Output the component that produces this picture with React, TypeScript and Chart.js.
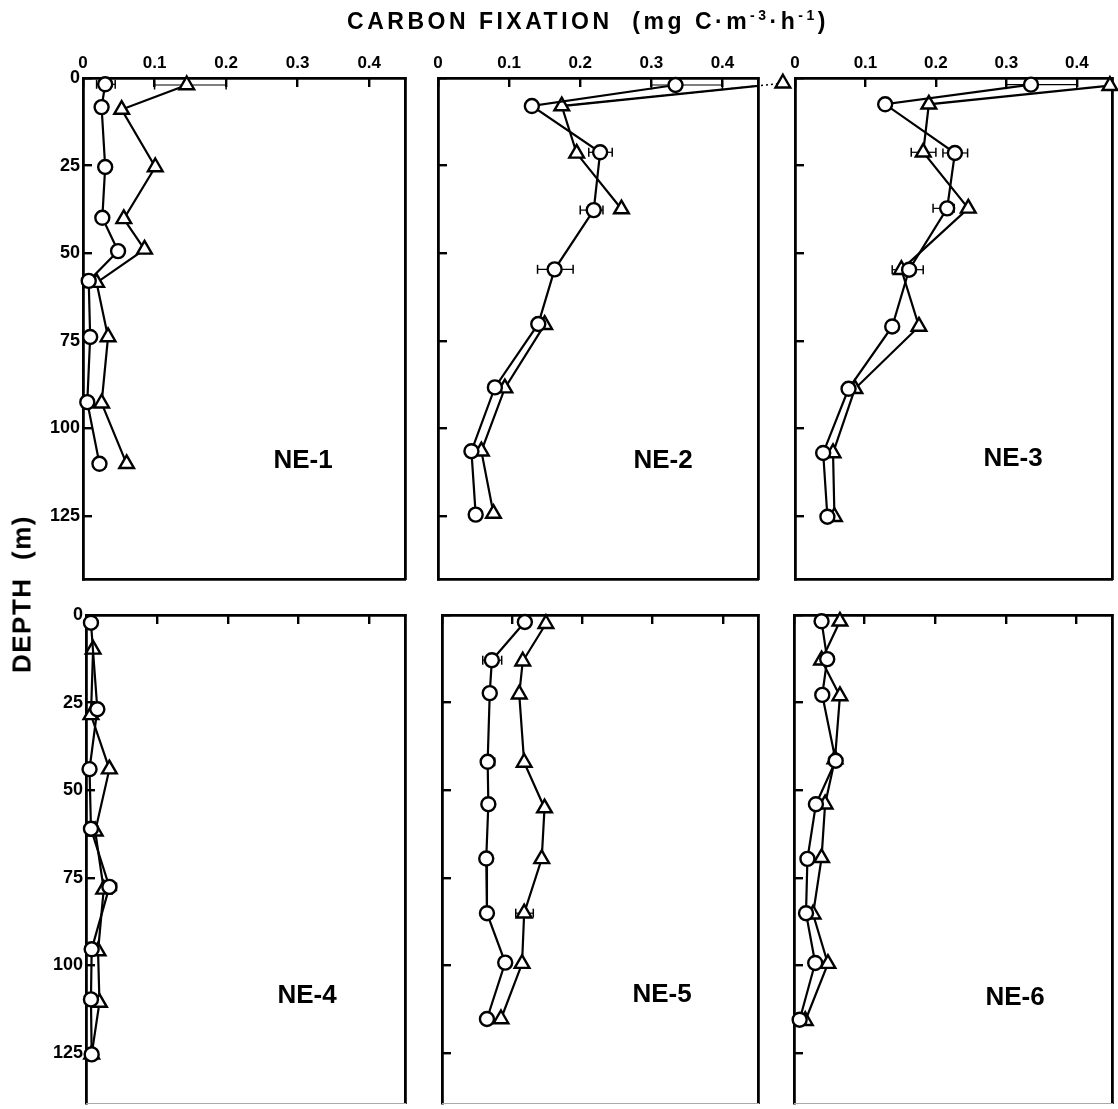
import React, { useEffect, useRef } from "react";
import { Chart, registerables } from "chart.js";

Chart.register(...registerables);

// ---------------- axes ----------------
const X_TICKS = [0, 0.1, 0.2, 0.3, 0.4];
const X_TICK_LABELS = ["0", "0.1", "0.2", "0.3", "0.4"];
const Y_TICKS = [0, 25, 50, 75, 100, 125];
const Y_TICK_LABELS = ["0", "25", "50", "75", "100", "125"];
const X_MAX = 0.45;
const Y_MAX_TOP = 143;
const Y_MAX_BOTTOM = 139.3;

const STATIONS = ["NE-1", "NE-2", "NE-3", "NE-4", "NE-5", "NE-6"];

// ---------------- data: depth (m) and carbon fixation (mg C m-3 h-1) ----------------
// circles
const NE1_CIRCLE_DEPTH = [1.8, 8.3, 25.4, 39.9, 49.4, 57.9, 73.9, 92.5, 110.1];
const NE1_CIRCLE_VALUE = [0.031, 0.026, 0.031, 0.027, 0.049, 0.008, 0.01, 0.006, 0.023];
// triangles
const NE1_TRI_DEPTH = [2.0, 9.0, 25.4, 40.2, 48.9, 58.4, 73.9, 92.8, 110.1];
const NE1_TRI_VALUE = [0.145, 0.054, 0.101, 0.057, 0.086, 0.019, 0.035, 0.026, 0.061];

const NE2_CIRCLE_DEPTH = [2.0, 8.0, 21.2, 37.7, 54.6, 70.2, 88.3, 106.5, 124.6];
const NE2_CIRCLE_VALUE = [0.334, 0.132, 0.228, 0.219, 0.164, 0.141, 0.08, 0.047, 0.053];
const NE2_TRI_DEPTH = [1.5, 8.0, 21.5, 37.4, 54.6, 70.4, 88.5, 106.5, 124.3];
const NE2_TRI_VALUE = [0.485, 0.174, 0.195, 0.258, null, 0.15, 0.094, 0.061, 0.078];

const NE3_CIRCLE_DEPTH = [1.9, 7.5, 21.4, 37.2, 54.7, 70.9, 88.7, 107.0, 125.2];
const NE3_CIRCLE_VALUE = [0.335, 0.128, 0.227, 0.216, 0.162, 0.138, 0.076, 0.04, 0.046];
const NE3_TRI_DEPTH = [2.2, 7.5, 21.2, 37.2, 54.7, 70.9, 88.7, 107.0, 125.2];
const NE3_TRI_VALUE = [0.447, 0.19, 0.182, 0.246, 0.151, 0.176, 0.085, 0.054, 0.056];

const NE4_CIRCLE_DEPTH = [2.2, 26.9, 44.0, 61.0, 77.6, 95.4, 109.7, 125.4];
const NE4_CIRCLE_VALUE = [0.007, 0.016, 0.005, 0.007, 0.033, 0.008, 0.007, 0.008];
const NE4_TRI_DEPTH = [9.8, 28.5, 44.0, 61.7, 78.3, 95.9, 110.6, 125.4];
const NE4_TRI_VALUE = [0.01, 0.007, 0.033, 0.013, 0.025, 0.017, 0.019, 0.008];

const NE5_CIRCLE_DEPTH = [2.0, 12.9, 22.3, 41.9, 54.0, 69.5, 85.1, 99.2, 115.3];
const NE5_CIRCLE_VALUE = [0.118, 0.071, 0.068, 0.065, 0.066, 0.063, 0.064, 0.09, 0.064];
const NE5_TRI_DEPTH = [2.5, 13.2, 22.6, 42.1, 55.1, 69.6, 85.1, 99.5, 115.3];
const NE5_TRI_VALUE = [0.148, 0.115, 0.11, 0.117, 0.146, 0.142, 0.117, 0.114, 0.084];

const NE6_CIRCLE_DEPTH = [1.8, 12.6, 22.8, 41.6, 54.0, 69.6, 85.1, 99.3, 115.5];
const NE6_CIRCLE_VALUE = [0.039, 0.047, 0.04, 0.059, 0.031, 0.019, 0.017, 0.03, 0.008];
const NE6_TRI_DEPTH = [1.8, 12.9, 23.1, 41.1, 54.0, 69.3, 85.4, 99.5, 115.8];
const NE6_TRI_VALUE = [0.065, 0.039, 0.065, 0.058, 0.044, 0.039, 0.027, 0.048, 0.016];

// horizontal error bars: [depth, low, high]
const NE1_ERR = [[1.8, 0.019, 0.045], [2.0, 0.1, 0.2]];
const NE2_ERR = [[2.0, 0.3, 0.4], [21.2, 0.212, 0.245], [37.7, 0.2, 0.232], [54.6, 0.14, 0.19]];
const NE3_ERR = [[1.9, 0.3, 0.4], [21.4, 0.21, 0.245], [21.2, 0.165, 0.2], [37.2, 0.196, 0.226], [54.7, 0.138, 0.182]];
const NE4_ERR = [[77.6, 0.022, 0.043]];
const NE5_ERR = [[12.9, 0.058, 0.085], [41.9, 0.058, 0.075], [85.1, 0.105, 0.13]];
const NE6_ERR = [[41.6, 0.05, 0.066]];

// ---------------- layout (pixels) ----------------
const ROW_BOX = [
  { top: 78, bottom: 584, yMax: Y_MAX_TOP },
  { top: 614.5, bottom: 1107, yMax: Y_MAX_BOTTOM },
];
const COL_BOX = [
  [[83, 405], [438, 758], [795, 1112]],
  [[86, 405], [442, 758], [794, 1112]],
];
const PAD_L = 80;
const PAD_T = 70;
const PAD_R = 40;
const PAD_B = 6;
const LABEL_POS = [
  [303, 459],
  [663, 459],
  [1013, 457],
  [307, 994],
  [662, 993],
  [1015, 996],
];

const FONT_FAMILY = "'Liberation Sans', Arial, Helvetica, sans-serif";

type Pt = { x: number | null; y: number };
const series = (depth: number[], value: (number | null)[]): Pt[] =>
  depth.map((d, i) => ({ x: value[i], y: d }));

const PANELS = [
  { circles: series(NE1_CIRCLE_DEPTH, NE1_CIRCLE_VALUE), tris: series(NE1_TRI_DEPTH, NE1_TRI_VALUE), err: NE1_ERR, offscale: false },
  { circles: series(NE2_CIRCLE_DEPTH, NE2_CIRCLE_VALUE), tris: series(NE2_TRI_DEPTH, NE2_TRI_VALUE), err: NE2_ERR, offscale: true },
  { circles: series(NE3_CIRCLE_DEPTH, NE3_CIRCLE_VALUE), tris: series(NE3_TRI_DEPTH, NE3_TRI_VALUE), err: NE3_ERR, offscale: false },
  { circles: series(NE4_CIRCLE_DEPTH, NE4_CIRCLE_VALUE), tris: series(NE4_TRI_DEPTH, NE4_TRI_VALUE), err: NE4_ERR, offscale: false },
  { circles: series(NE5_CIRCLE_DEPTH, NE5_CIRCLE_VALUE), tris: series(NE5_TRI_DEPTH, NE5_TRI_VALUE), err: NE5_ERR, offscale: false },
  { circles: series(NE6_CIRCLE_DEPTH, NE6_CIRCLE_VALUE), tris: series(NE6_TRI_DEPTH, NE6_TRI_VALUE), err: NE6_ERR, offscale: false },
];

// draws the points of flagged datasets even when they fall outside the plot frame
const drawOutsidePlugin = {
  id: "drawOutside",
  afterDatasetsDraw(chart: any) {
    const full = { left: 0, top: 0, right: chart.width, bottom: chart.height };
    chart.data.datasets.forEach((ds: any, i: number) => {
      if (!ds.drawOutside) return;
      const meta = chart.getDatasetMeta(i);
      meta.data.forEach((el: any) => el.draw(chart.ctx, full));
    });
  },
};

function Panel({ index }: { index: number }) {
  const ref = useRef<HTMLCanvasElement | null>(null);
  const row = Math.floor(index / 3);
  const col = index % 3;
  const box = ROW_BOX[row];
  const [L, R] = COL_BOX[row][col];
  const width = Math.round(R - L + PAD_L + PAD_R);
  const height = Math.round(box.bottom - box.top + PAD_T + PAD_B);
  const left = L - PAD_L;
  const top = box.top - PAD_T;

  useEffect(() => {
    const p = PANELS[index];
    const showX = row === 0;
    const showY = col === 0;
    const xFont = { family: FONT_FAMILY, size: 17, weight: "bold" as const };
    const yFont = { family: FONT_FAMILY, size: 18, weight: "bold" as const };
    const datasets: any[] = [
      {
        data: p.circles,
        showLine: true,
        borderColor: "#000",
        borderWidth: 2.2,
        pointStyle: "circle",
        pointRadius: 7,
        pointBorderWidth: 2.4,
        pointBackgroundColor: "#fff",
        pointBorderColor: "#000",
        clip: false,
      },
      {
        data: p.tris,
        showLine: true,
        borderColor: "#000",
        borderWidth: 2.2,
        pointStyle: "triangle",
        pointRadius: 8.5,
        pointBorderWidth: 2.4,
        pointBackgroundColor: "#fff",
        pointBorderColor: "#000",
        clip: p.offscale ? { left: 20, top: 20, right: 0, bottom: 20 } : false,
      },
    ];
    if (p.offscale) {
      datasets.push({
        data: p.tris.slice(0, 2),
        showLine: true,
        borderColor: "#000",
        borderWidth: 1.5,
        borderDash: [2, 3],
        pointStyle: "triangle",
        pointRadius: [8.5, 0],
        pointBorderWidth: 2.4,
        pointBackgroundColor: "#fff",
        pointBorderColor: "#000",
        clip: false,
        drawOutside: true,
      });
    }
    p.err.forEach(([d, lo, hi]) => {
      datasets.push({
        data: [
          { x: lo, y: d },
          { x: hi, y: d },
        ],
        showLine: true,
        borderColor: "#000",
        borderWidth: 1.2,
        pointStyle: "line",
        pointRotation: 90,
        pointRadius: 4.5,
        pointBorderWidth: 1.5,
        pointBorderColor: "#000",
        clip: false,
      });
    });
    const chart = new Chart(ref.current as HTMLCanvasElement, {
      type: "scatter",
      data: { datasets },
      plugins: [drawOutsidePlugin],
      options: {
        responsive: false,
        animation: false,
        events: [],
        layout: { padding: { left: 0, top: 0, right: PAD_R, bottom: PAD_B } },
        plugins: { legend: { display: false }, tooltip: { enabled: false } },
        scales: {
          x: {
            type: "linear",
            position: "top",
            min: 0,
            max: X_MAX,
            afterBuildTicks: (s: any) => {
              s.ticks = X_TICKS.map((v) => ({ value: v }));
            },
            afterFit: (s: any) => {
              s.height = PAD_T;
              s.paddingLeft = 0;
              s.paddingRight = 0;
            },
            ticks: {
              callback: (_v: any, i: number) => (showX ? X_TICK_LABELS[i] : ""),
              font: xFont,
              color: "#000",
              padding: 13,
              maxRotation: 0,
              autoSkip: false,
            },
            grid: { drawOnChartArea: false, drawTicks: true, tickLength: -9, color: "#000", lineWidth: 2.4 },
            border: { display: true, color: "#000", width: 2.8 },
          },
          y: {
            type: "linear",
            position: "left",
            reverse: true,
            min: 0,
            max: box.yMax,
            afterBuildTicks: (s: any) => {
              s.ticks = Y_TICKS.map((v) => ({ value: v }));
            },
            afterFit: (s: any) => {
              s.width = PAD_L;
              s.paddingTop = 0;
              s.paddingBottom = 0;
            },
            ticks: {
              callback: (_v: any, i: number) => (showY ? Y_TICK_LABELS[i] : ""),
              font: yFont,
              color: "#000",
              padding: 12,
              autoSkip: false,
            },
            grid: { drawOnChartArea: false, drawTicks: true, tickLength: -9, color: "#000", lineWidth: 2.4 },
            border: { display: true, color: "#000", width: 2.8 },
          },
          y2: {
            type: "linear",
            position: "right",
            min: 0,
            max: 1,
            ticks: { display: false },
            grid: { display: false },
            border: { display: true, color: "#000", width: 2.8 },
            afterFit: (s: any) => {
              s.width = 0;
              s.paddingTop = 0;
              s.paddingBottom = 0;
            },
          },
          x2: {
            type: "linear",
            position: "bottom",
            min: 0,
            max: 1,
            ticks: { display: false },
            grid: { display: false },
            border: { display: true, color: row === 0 ? "#000" : "#aaa", width: row === 0 ? 2.8 : 1 },
            afterFit: (s: any) => {
              s.height = 0;
              s.paddingLeft = 0;
              s.paddingRight = 0;
            },
          },
        },
      } as any,
    });
    return () => chart.destroy();
  }, []);

  return (
    <canvas
      ref={ref}
      width={width}
      height={height}
      style={{ position: "absolute", left, top, width, height }}
    />
  );
}

export default function App() {
  return (
    <div
      style={{
        position: "absolute",
        left: 0,
        top: 0,
        width: 1118,
        height: 1109,
        overflow: "hidden",
        background: "#fff",
        fontFamily: FONT_FAMILY,
        color: "#000",
      }}
    >
      {STATIONS.map((_, i) => (
        <Panel key={i} index={i} />
      ))}
      <div
        style={{
          position: "absolute",
          left: 588,
          top: 21,
          transform: "translate(-50%, -50%)",
          whiteSpace: "nowrap",
          fontSize: 23,
          fontWeight: "bold",
          letterSpacing: 3.5,
        }}
      >
        CARBON FIXATION&nbsp;&nbsp;(mg C·m
        <span style={{ fontSize: 14, verticalAlign: "super" }}>-3</span>·h
        <span style={{ fontSize: 14, verticalAlign: "super" }}>-1</span>)
      </div>
      <div
        style={{
          position: "absolute",
          left: 22,
          top: 594,
          transform: "translate(-50%, -50%) rotate(-90deg)",
          whiteSpace: "nowrap",
          fontSize: 26,
          fontWeight: "bold",
          letterSpacing: 1.5,
        }}
      >
        DEPTH&nbsp;&nbsp;(m)
      </div>
      {STATIONS.map((name, i) => (
        <div
          key={name}
          style={{
            position: "absolute",
            left: LABEL_POS[i][0],
            top: LABEL_POS[i][1],
            transform: "translate(-50%, -50%)",
            whiteSpace: "nowrap",
            fontSize: 26,
            fontWeight: "bold",
          }}
        >
          {name}
        </div>
      ))}
    </div>
  );
}
